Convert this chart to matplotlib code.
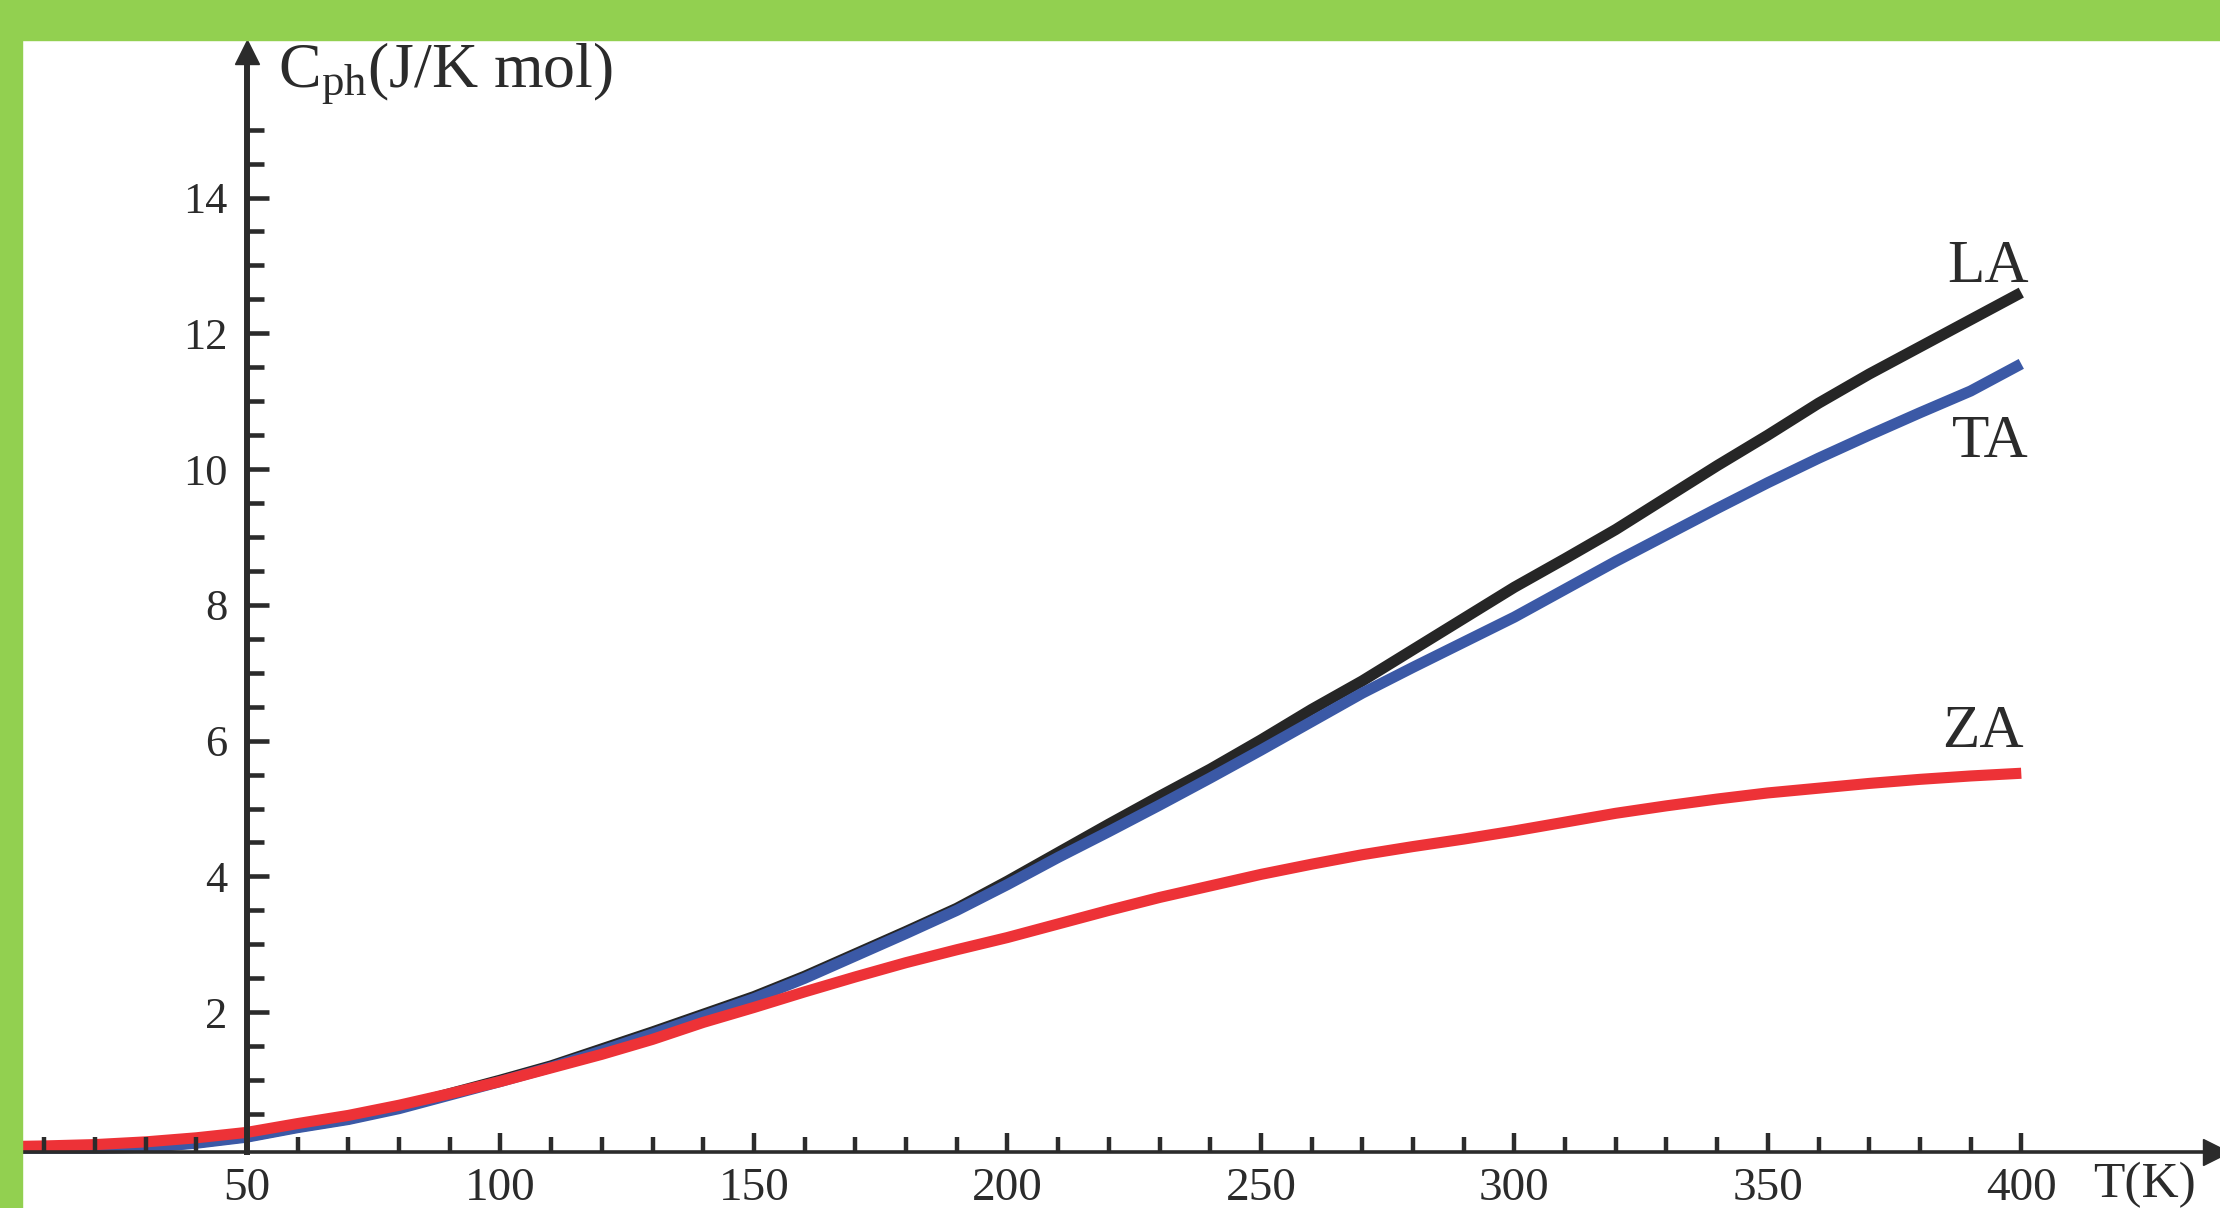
import matplotlib.pyplot as plt
from matplotlib.patches import Rectangle
from matplotlib.ticker import FixedLocator

plt.rcParams['font.family'] = ['Liberation Serif', 'DejaVu Serif']
plt.rcParams['mathtext.fontset'] = 'custom'
plt.rcParams['mathtext.rm'] = 'Liberation Serif'
plt.rcParams['mathtext.it'] = 'Liberation Serif:italic'

GREEN = "#92D050"
INK = "#2b2b2b"
RED, BLUE, BLACK = "#ED3237", "#3B59A6", "#262626"

# ---------------------------------------------------------------
# données : C_ph (J/K mol) en fonction de T (K)
# ---------------------------------------------------------------
T = [2, 10, 20, 30, 40, 50, 60, 70, 80, 90, 100, 110, 120, 130, 140, 150,
     160, 170, 180, 190, 200, 210, 220, 230, 240, 250, 260, 270, 280, 290,
     300, 310, 320, 330, 340, 350, 360, 370, 380, 390, 400]

ZA = [0.02, 0.03, 0.05, 0.09, 0.15, 0.23, 0.36, 0.48, 0.63, 0.80, 0.98,
      1.18, 1.38, 1.60, 1.85, 2.07, 2.30, 2.52, 2.73, 2.92, 3.10, 3.30,
      3.50, 3.69, 3.86, 4.03, 4.18, 4.32, 4.44, 4.55, 4.67, 4.80, 4.93,
      5.04, 5.14, 5.23, 5.30, 5.37, 5.43, 5.48, 5.52]

TA = [0.0, 0.0, 0.0, 0.01, 0.07, 0.16, 0.30, 0.42, 0.58, 0.78, 0.98,
      1.19, 1.43, 1.68, 1.94, 2.20, 2.50, 2.83, 3.16, 3.50, 3.88, 4.28,
      4.66, 5.05, 5.45, 5.86, 6.28, 6.70, 7.08, 7.45, 7.82, 8.23, 8.64,
      9.03, 9.42, 9.80, 10.16, 10.50, 10.83, 11.15, 11.55]

LA = [0.0, 0.0, 0.0, 0.01, 0.08, 0.17, 0.31, 0.43, 0.60, 0.80, 1.00,
      1.21, 1.46, 1.71, 1.97, 2.23, 2.53, 2.86, 3.19, 3.53, 3.93, 4.35,
      4.77, 5.18, 5.58, 6.01, 6.46, 6.88, 7.34, 7.80, 8.26, 8.68, 9.11,
      9.58, 10.05, 10.50, 10.97, 11.40, 11.80, 12.20, 12.60]

x_major = [50, 100, 150, 200, 250, 300, 350, 400]
x_minor = [t for t in range(10, 400, 10) if t % 50]
y_major = [2, 4, 6, 8, 10, 12, 14]
y_minor = [v / 2 for v in range(1, 31) if v % 4]

# ---------------------------------------------------------------
# figure
# ---------------------------------------------------------------
fig = plt.figure(figsize=(22.2, 12.08), dpi=100)
fig.patch.set_facecolor("white")
ax = fig.add_axes([0, 0, 1, 1])
ax.set_facecolor("white")
ax.set_xlim(1.27, 439.2)
ax.set_ylim(-0.884, 16.91)
ax.set_axisbelow(False)

lw = 8
ax.plot(T, LA, color=BLACK, lw=lw, solid_capstyle="butt", zorder=2)
ax.plot(T, TA, color=BLUE, lw=lw, solid_capstyle="butt", zorder=2.1)
ax.plot(T, ZA, color=RED, lw=lw, solid_capstyle="butt", zorder=2.2)

# axes en croix, origine (50, 0)
for s in ("top", "right"):
    ax.spines[s].set_visible(False)
ax.spines["left"].set_position(("data", 50))
ax.spines["bottom"].set_position(("data", -0.06))
ax.spines["left"].set_bounds(-0.06, 16.1)
ax.spines["bottom"].set_bounds(1.27, 436)
ax.spines["left"].set_linewidth(4.3)
ax.spines["bottom"].set_linewidth(2.6)
for s in ("left", "bottom"):
    ax.spines[s].set_color(INK)
    ax.spines[s].set_zorder(3)

ax.xaxis.set_major_locator(FixedLocator(x_major))
ax.xaxis.set_minor_locator(FixedLocator(x_minor))
ax.yaxis.set_major_locator(FixedLocator(y_major))
ax.yaxis.set_minor_locator(FixedLocator(y_minor))
ax.set_xticklabels([str(v) for v in x_major])
ax.set_yticklabels([str(v) for v in y_major])

ax.tick_params(axis="x", which="major", direction="in", length=14, width=3.2,
               color=INK, labelsize=34, labelcolor=INK, pad=11)
ax.tick_params(axis="x", which="minor", direction="in", length=10.5, width=3.2,
               color=INK)
ax.tick_params(axis="y", which="major", direction="in", length=16, width=3.3,
               color=INK, labelsize=32, labelcolor=INK, pad=14)
ax.tick_params(axis="y", which="minor", direction="in", length=12, width=3.3,
               color=INK)

# flèches des axes
ax.plot(50, 16.14, marker="^", markersize=17.5, color=INK, clip_on=False,
        zorder=4)
ax.plot(438.4, -0.06, marker=">", markersize=18.5, color=INK, clip_on=False,
        zorder=4)

# titres des axes
ax.text(50 + (278 - 247) / 5.069, (1148 - 86) / 67.89,
        r"C$_{\mathrm{ph}}$(J/K mol)", fontsize=46, color=INK,
        ha="left", va="baseline")
ax.text(50 + (2093 - 247) / 5.069, (1148 - 1197) / 67.89, "T(K)",
        fontsize=37, color=INK, ha="left", va="baseline", clip_on=False)

# étiquettes des courbes
ax.text(401.5, 12.75, "LA", fontsize=44, color=INK, ha="right", va="baseline")
ax.text(401.5, 10.18, "TA", fontsize=44, color=INK, ha="right", va="baseline")
ax.text(400.4, 5.91, "ZA", fontsize=44, color=INK, ha="right", va="baseline")

# cadre vert (haut et gauche)
fig.patches.append(Rectangle((0, 1 - 40 / 1208), 1, 40 / 1208,
                             transform=fig.transFigure, color=GREEN, zorder=10))
fig.patches.append(Rectangle((0, 0), 22 / 2220, 1,
                             transform=fig.transFigure, color=GREEN, zorder=10))

fig.savefig("out.png", dpi=100, facecolor="white")
